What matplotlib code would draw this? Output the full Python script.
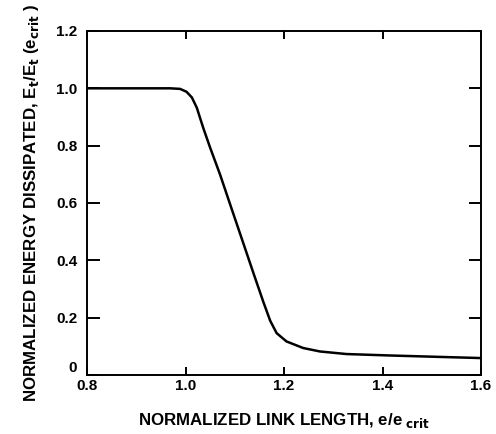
import matplotlib
matplotlib.use('Agg')
import matplotlib.pyplot as plt

plt.rcParams['font.family'] = ['Liberation Sans', 'DejaVu Sans']
plt.rcParams['font.weight'] = 'bold'
plt.rcParams['mathtext.default'] = 'bf'

# значения кривой
link_length = [0.800, 0.900, 0.969, 0.989, 1.002, 1.013, 1.023, 1.036,
               1.050, 1.070, 1.094, 1.110, 1.138, 1.158, 1.172, 1.185,
               1.205, 1.239, 1.273, 1.327, 1.415, 1.517, 1.600]
energy = [1.000, 1.000, 1.000, 0.998, 0.988, 0.968, 0.932, 0.862,
          0.793, 0.700, 0.578, 0.497, 0.355, 0.255, 0.189, 0.146,
          0.117, 0.094, 0.082, 0.073, 0.068, 0.063, 0.059]

xticks = [0.8, 1.0, 1.2, 1.4, 1.6]
xtick_labels = ['0.8', '1.0', '1.2', '1.4', '1.6']
yticks = [0, 0.2, 0.4, 0.6, 0.8, 1.0, 1.2]
ytick_labels = ['0', '0.2', '0.4', '0.6', '0.8', '1.0', '1.2']

fig = plt.figure(figsize=(4.96, 4.34), dpi=100)
ax = fig.add_axes([0.1754, 0.136, 0.7944, 0.7926])

ax.plot(link_length, energy, color='black', linewidth=1.8,
        solid_joinstyle='round')

ax.set_xlim(0.8, 1.6)
ax.set_ylim(0, 1.2)
ax.set_xticks(xticks)
ax.set_xticklabels(xtick_labels)
ax.set_yticks(yticks)
ax.set_yticklabels(ytick_labels)

for s in ax.spines.values():
    s.set_linewidth(1.4)

ax.tick_params(axis='x', direction='in', length=6, width=1.4, top=True,
               labelsize=11, pad=3)
ax.tick_params(axis='y', direction='in', length=9, width=1.4, right=True,
               labelsize=11, pad=7)
# "0" на оси Y в оригинале стоит чуть выше нуля
ax.get_yticklabels()[0].set_verticalalignment('bottom')

ax.set_xlabel('NORMALIZED LINK LENGTH, e/e$_{\\ crit}$', fontsize=12.2,
              fontweight='bold', labelpad=13)
ax.set_ylabel('NORMALIZED ENERGY DISSIPATED, E$_t$/E$_t$ (e$_{crit}$ )',
              fontsize=12.2, fontweight='bold', labelpad=11)

fig.savefig('out.png', dpi=100)
